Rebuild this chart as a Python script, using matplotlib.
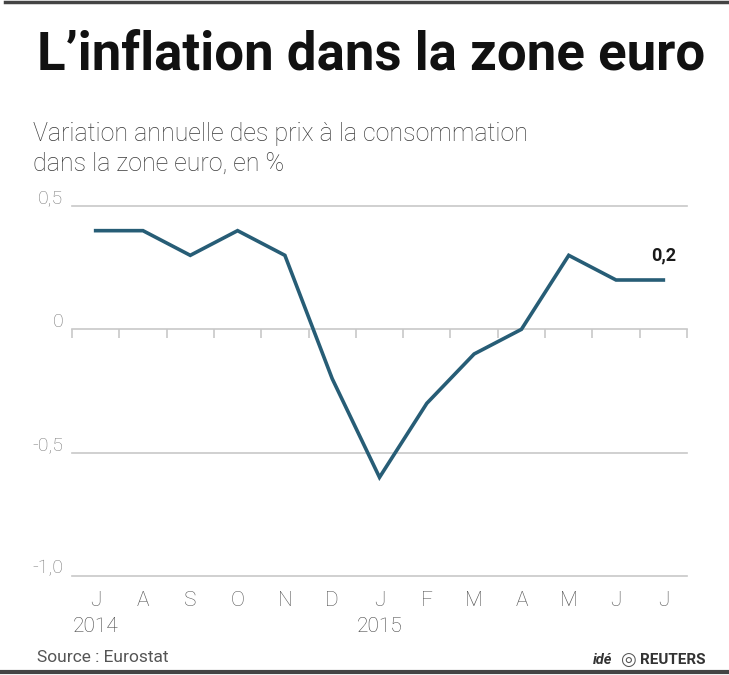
import matplotlib
matplotlib.use("Agg")
import matplotlib.pyplot as plt
import numpy as np

months = ["J", "A", "S", "O", "N", "D", "J", "F", "M", "A", "M", "J", "J"]
inflation = [0.4, 0.4, 0.3, 0.4, 0.3, -0.2, -0.6, -0.3, -0.1, 0.0, 0.3, 0.2, 0.2]
years = {"2014": 0, "2015": 6}
yticks = [0.5, 0.0, -0.5, -1.0]
ytick_labels = ["0,5", "0", "-0,5", "-1,0"]
last_label = "0,2"

font = "Roboto"

W, H = 729, 675
fig = plt.figure(figsize=(W / 100, H / 100), dpi=100)
fig.patch.set_facecolor("white")

def fx(px):
    return px / W

def fy(py):
    return 1 - py / H

# borders
fig.add_artist(plt.Line2D([fx(5), 1], [fy(1.5), fy(1.5)], color="#444444", lw=2.5))
fig.add_artist(plt.Line2D([0, 1], [fy(672), fy(672)], color="#444444", lw=3))

ax = fig.add_axes([fx(72), fy(576), fx(687) - fx(72), fy(206) - fy(576)])
ax.set_xlim(-0.5, len(months) - 0.5)
ax.set_ylim(-1.0, 0.5)
for s in ax.spines.values():
    s.set_visible(False)
ax.set_xticks([])
ax.set_yticks([])
for yv in yticks:
    ax.axhline(yv, color="#c8c8c8", lw=1.2, clip_on=False, zorder=1)
ax.vlines(np.arange(len(months) + 1) - 0.5, -0.035, 0, color="#c8c8c8", lw=1.2, clip_on=False)

x = np.arange(len(months))
ax.plot(x, inflation, color="#275d76", lw=2.6, solid_joinstyle="miter", zorder=3)
ax.text(x[-1], inflation[-1] + 0.1, last_label, ha="center", va="center",
        fontsize=13, fontweight="bold", family=font, color="#1a1a1a")

for yv, lab in zip(yticks, ytick_labels):
    ax.text(-0.68, yv - 0.005, lab, ha="right", va="bottom", fontsize=14, family=font,
            fontweight="light", color="#7a7a7a", transform=ax.transData)

trans = ax.get_xaxis_transform()
for i, m in enumerate(months):
    ax.text(i, -0.04, m, ha="center", va="top", fontsize=15, family=font, fontweight="light",
            color="#555555", transform=trans)
for yl, i in years.items():
    ax.text(i, -0.11, yl, ha="center", va="top", fontsize=15, family=font, fontweight="light",
            color="#444444", transform=trans)

fig.text(fx(37), fy(55), "L\u2019inflation dans la zone euro", ha="left", va="center",
         fontsize=38, fontweight="bold", family=font, color="#111111")
fig.text(fx(33), fy(149), "Variation annuelle des prix \u00e0 la consommation\ndans la zone euro, en %",
         ha="left", va="center", fontsize=18, family=font, fontweight="light", color="#3a3a3a",
         linespacing=1.3)
fig.text(fx(37), fy(657), "Source : Eurostat", ha="left", va="center", fontsize=12.5,
         family=font, color="#555555")
fig.text(fx(612), fy(660), "id\u00e9", ha="right", va="center", fontsize=10.5, fontweight="bold",
         style="italic", family=font, color="#333333")
fig.text(fx(628), fy(660), "\u25CE", ha="center", va="center", fontsize=13, color="#555555",
         family="DejaVu Sans")
fig.text(fx(640), fy(660), "REUTERS", ha="left", va="center", fontsize=11, fontweight="bold",
         family=font, color="#333333")

fig.savefig("out.png", dpi=100, facecolor="white")
